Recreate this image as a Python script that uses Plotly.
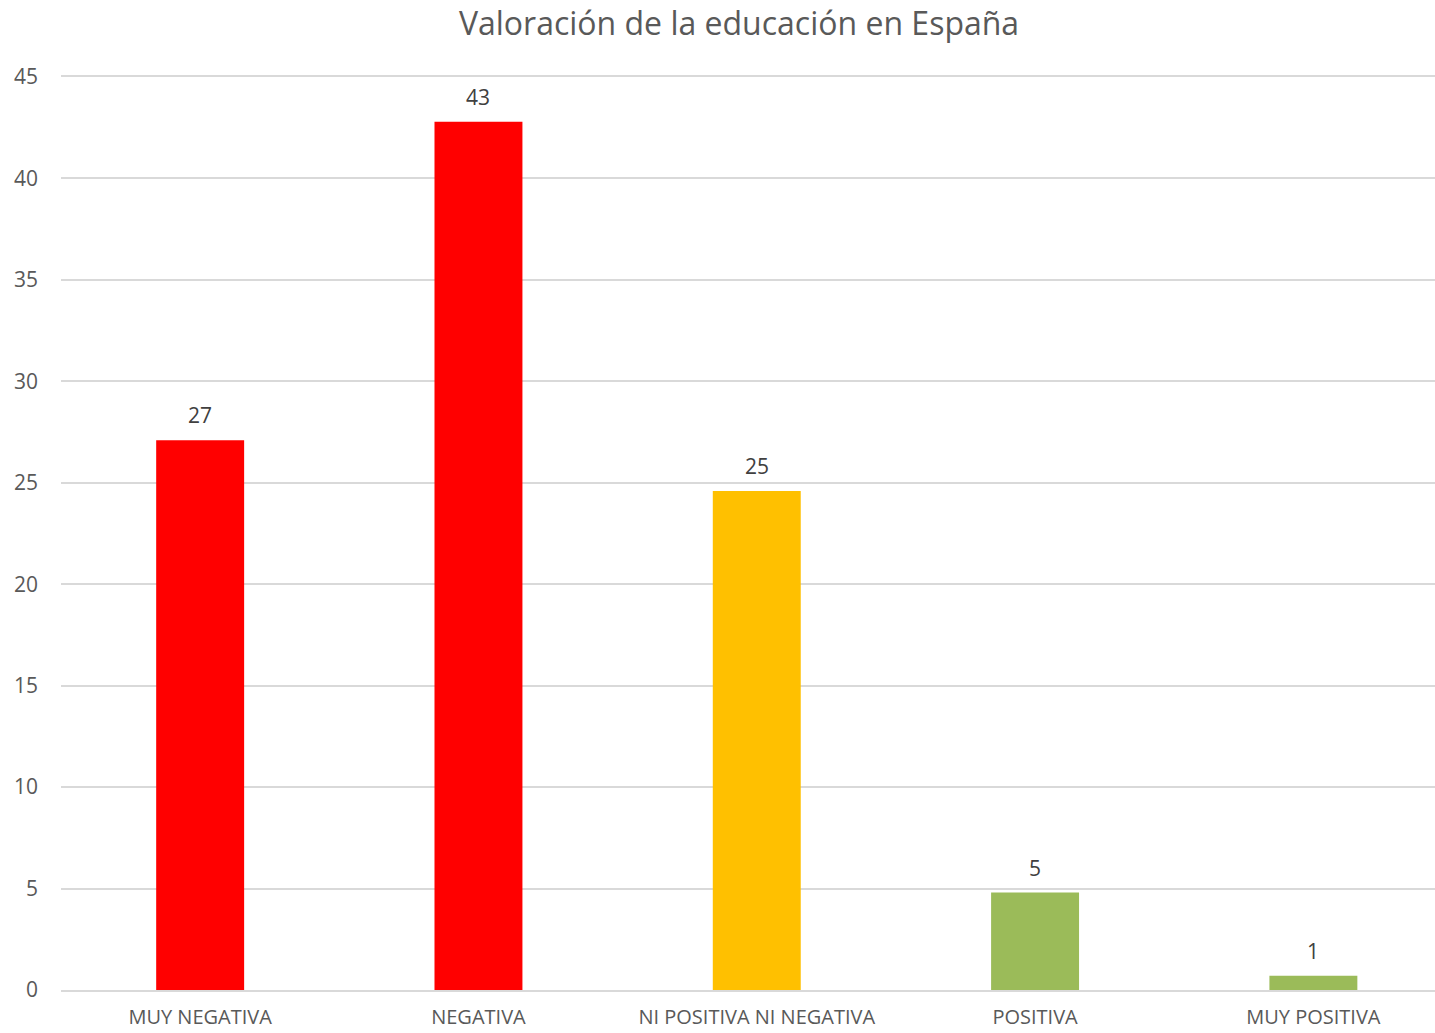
import plotly.graph_objects as go

# DATA
categories = ["MUY NEGATIVA", "NEGATIVA", "NI POSITIVA NI NEGATIVA", "POSITIVA", "MUY POSITIVA"]
values = [27.1, 42.8, 24.6, 4.8, 0.7]
labels = ["27", "43", "25", "5", "1"]
colours = ["#ff0000", "#ff0000", "#ffc000", "#9bbb59", "#9bbb59"]
y_ticks = [0, 5, 10, 15, 20, 25, 30, 35, 40, 45]

FONT = "Open Sans, Noto Sans, sans-serif"

bars = go.Bar(
    x=categories, y=values,
    marker=dict(color=colours, line=dict(width=0)),
    width=0.316,
)

fig = go.Figure(data=[bars])

# value labels above each bar
for cat, val, lab in zip(categories, values, labels):
    fig.add_annotation(
        x=cat, y=val, text=lab, showarrow=False,
        yanchor="middle", yshift=25,
        font=dict(family=FONT, size=21, color="#404040"),
    )

fig.update_layout(
    width=1435, height=1033,
    margin=dict(l=61, r=0, t=77, b=43),
    paper_bgcolor="white", plot_bgcolor="white",
    showlegend=False,
    title=dict(
        text="Valoración de la educación en España",
        x=0.515, xanchor="center", y=0.977, yanchor="middle",
        font=dict(family=FONT, size=32, color="#595959"),
    ),
)

fig.update_xaxes(
    range=[-0.5, 4.437], automargin=False,
    showgrid=False, ticks="",
    showline=True, mirror=True, linecolor="#d9d9d9", linewidth=2,
    ticklabelstandoff=8,
    tickfont=dict(family=FONT, size=20, color="#595959"),
)

fig.update_yaxes(
    range=[0, 45], tickvals=y_ticks, automargin=False,
    showgrid=True, gridcolor="#d9d9d9", gridwidth=2,
    zeroline=False, showline=False, ticks="",
    ticklabelstandoff=22,
    tickfont=dict(family=FONT, size=21, color="#595959"),
)

fig.write_html(
    "out.html",
    config={"displayModeBar": False},
    post_script="document.body.style.margin='0';",
)
